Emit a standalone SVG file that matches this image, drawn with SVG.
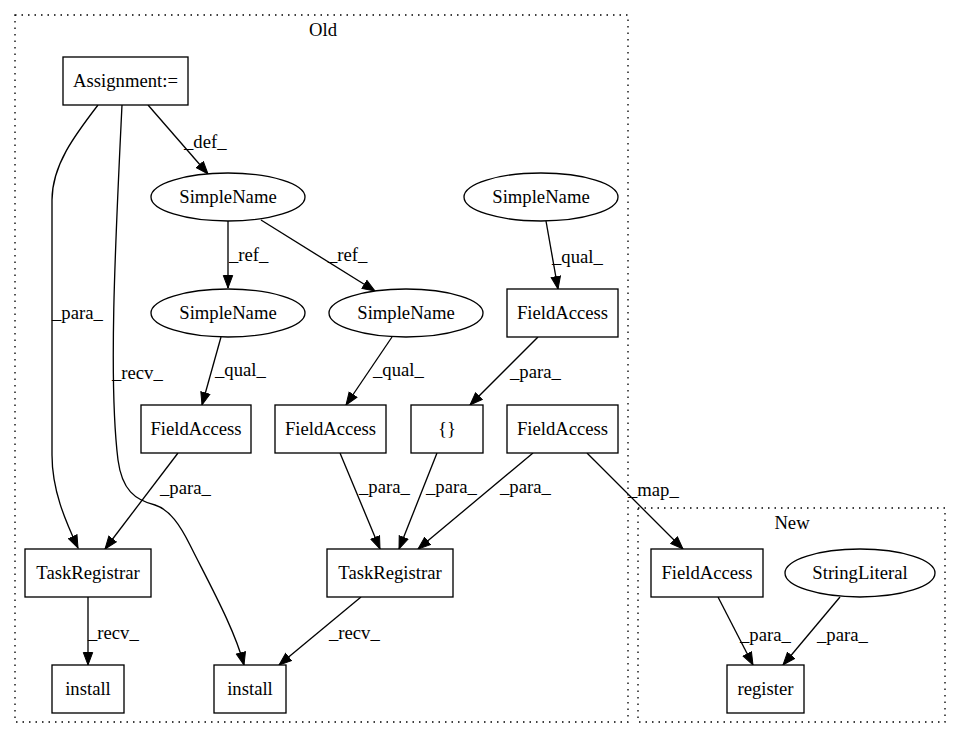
<svg xmlns="http://www.w3.org/2000/svg" width="961" height="740" viewBox="0 0 961 740">
<style>
text{font-family:"Liberation Serif","Times New Roman",serif;font-size:18.67px;fill:#000}
.n{text-anchor:middle}
.shape{fill:#fff;stroke:#000;stroke-width:1.33}
.cl{fill:none;stroke:#000;stroke-width:1.33;stroke-dasharray:1.5,5}
.e{fill:none;stroke:#000;stroke-width:1.33;marker-end:url(#ah)}
</style>
<defs>
<marker id="ah" markerWidth="15" markerHeight="12" refX="13" refY="6" orient="auto" markerUnits="userSpaceOnUse">
<path d="M0.5,1.3 L13,6 L0.5,10.7 z" fill="#000" stroke="#000" stroke-width="1"/>
</marker>
</defs>
<rect width="961" height="740" fill="#fff"/>
<g id="cluster_old">
<rect class="cl" x="15" y="15" width="613" height="707"/>
<text class="n" x="323" y="36">Old</text>
</g>
<g id="cluster_new">
<rect class="cl" x="638" y="508" width="307" height="214"/>
<text class="n" x="792" y="529">New</text>
</g>
<g id="edges">
<path class="e" d="M148,105 L208,174"/>
<text x="184" y="148">_def_</text>
<path class="e" d="M98,105 C75,135 52,165 52,200 L52,455 C52,490 65,520 78,548"/>
<text x="52" y="319">_para_</text>
<path class="e" d="M122,105 C116,230 108,380 118,460 C122,490 135,500 155,505 C170,510 180,525 190,545 C210,585 235,630 244,665"/>
<text x="112" y="379">_recv_</text>
<path class="e" d="M228,221 L228,288"/>
<text x="229" y="261">_ref_</text>
<path class="e" d="M261,220 L375,291"/>
<text x="328" y="261">_ref_</text>
<path class="e" d="M546,221 L558,289"/>
<text x="552" y="263">_qual_</text>
<path class="e" d="M221,337 L202,405"/>
<text x="215" y="376">_qual_</text>
<path class="e" d="M392,337 L346,405"/>
<text x="373" y="376">_qual_</text>
<path class="e" d="M538,337 L470,405"/>
<text x="510" y="378">_para_</text>
<path class="e" d="M178,453 L105,549"/>
<text x="160" y="494">_para_</text>
<path class="e" d="M340,453 L380,549"/>
<text x="359" y="493">_para_</text>
<path class="e" d="M437,453 L399,549"/>
<text x="426" y="493">_para_</text>
<path class="e" d="M533,453 L418,549"/>
<text x="500" y="493">_para_</text>
<path class="e" d="M587,453 L683,549"/>
<text x="628" y="496">_map_</text>
<path class="e" d="M88,597 L88,665"/>
<text x="88" y="639">_recv_</text>
<path class="e" d="M361,597 L279,665"/>
<text x="329" y="639">_recv_</text>
<path class="e" d="M718,597 L753,665"/>
<text x="740" y="641">_para_</text>
<path class="e" d="M840,597 L783,665"/>
<text x="817" y="641">_para_</text>
</g>
<g id="assignment"><rect class="shape" x="63" y="57" width="125" height="48"/><text class="n" x="125.5" y="87">Assignment:=</text></g>
<g id="simplename1"><ellipse class="shape" cx="228" cy="197" rx="77" ry="24"/><text class="n" x="228" y="203">SimpleName</text></g>
<g id="simplename_r"><ellipse class="shape" cx="541" cy="197" rx="77" ry="24"/><text class="n" x="541" y="203">SimpleName</text></g>
<g id="simplename2"><ellipse class="shape" cx="228" cy="313" rx="77" ry="24"/><text class="n" x="228" y="319">SimpleName</text></g>
<g id="simplename3"><ellipse class="shape" cx="406" cy="313" rx="77" ry="24"/><text class="n" x="406" y="319">SimpleName</text></g>
<g id="fieldaccess_top"><rect class="shape" x="507" y="289" width="111" height="48"/><text class="n" x="562.5" y="319">FieldAccess</text></g>
<g id="fieldaccess_a"><rect class="shape" x="141" y="405" width="110" height="48"/><text class="n" x="196" y="435">FieldAccess</text></g>
<g id="fieldaccess_b"><rect class="shape" x="275" y="405" width="111" height="48"/><text class="n" x="330.5" y="435">FieldAccess</text></g>
<g id="braces"><rect class="shape" x="411" y="405" width="72" height="48"/><text class="n" x="447" y="435">{}</text></g>
<g id="fieldaccess_c"><rect class="shape" x="507" y="405" width="111" height="48"/><text class="n" x="562.5" y="435">FieldAccess</text></g>
<g id="taskregistrar1"><rect class="shape" x="25" y="549" width="126" height="48"/><text class="n" x="88" y="579">TaskRegistrar</text></g>
<g id="taskregistrar2"><rect class="shape" x="327" y="549" width="126" height="48"/><text class="n" x="390" y="579">TaskRegistrar</text></g>
<g id="fieldaccess_new"><rect class="shape" x="651" y="549" width="112" height="48"/><text class="n" x="707" y="579">FieldAccess</text></g>
<g id="stringliteral"><ellipse class="shape" cx="860" cy="573" rx="75" ry="24"/><text class="n" x="860" y="579">StringLiteral</text></g>
<g id="install1"><rect class="shape" x="52" y="665" width="72" height="48"/><text class="n" x="88" y="695">install</text></g>
<g id="install2"><rect class="shape" x="214" y="665" width="72" height="48"/><text class="n" x="250" y="695">install</text></g>
<g id="register"><rect class="shape" x="727" y="665" width="77" height="48"/><text class="n" x="765.5" y="695">register</text></g>
</svg>
